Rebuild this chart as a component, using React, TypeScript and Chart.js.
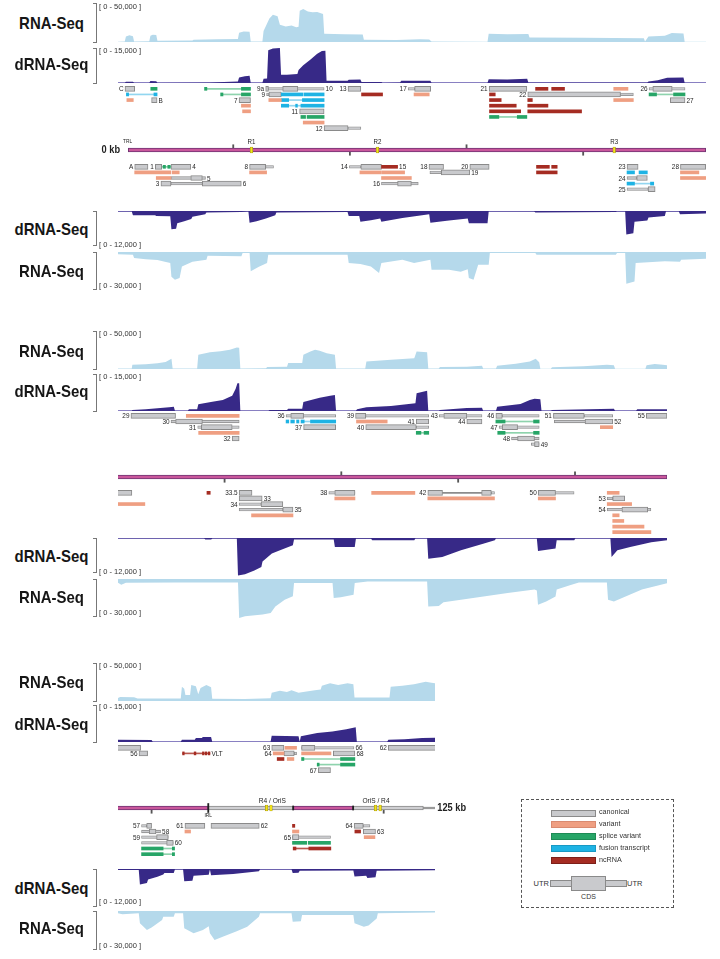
import React, { useEffect, useRef } from 'react';
import { Chart, registerables } from 'chart.js';

Chart.register(...registerables);

type Cov = [number, number][];
type Feat = [number, number, number, string];
type GLabel = [string, number, number, string];

// ================= coverage: [position kb (row-local), reads] =================
const r1RnaPlus: Cov = [
  [0, 300], [0.7, 600], [0.8, 7000], [1.1, 8500], [1.4, 7500], [1.5, 800], [2.8, 900], [2.9, 8000], [3.1, 9400], [3.4, 9000], [3.5, 1500],
  [6.5, 1800], [6.6, 3000], [8.6, 3400], [10.4, 3800], [10.5, 12000], [10.9, 13600], [11.4, 13000], [11.5, 600], [12.5, 500],
  [12.6, 14000], [13.1, 30000], [13.4, 35000], [13.8, 33000], [14.0, 22000], [14.5, 20000], [15.0, 21000], [15.4, 19000], [15.6, 19500],
  [15.7, 40000], [16.0, 42300], [16.4, 39000], [16.8, 38000], [17.2, 38500], [17.7, 36000], [17.8, 10500], [19.5, 10000], [21.1, 9500],
  [21.2, 3000], [24, 2600], [26, 3500], [26.8, 3200], [27.0, 500], [31.8, 400], [31.9, 10600], [33.5, 9800], [35.3, 10200], [35.4, 5900],
  [40, 5500], [45.2, 4800], [45.3, 700], [45.6, 7000], [47.0, 8000], [47.6, 11500], [48.6, 11000], [48.7, 300], [50.6, 200],
];
const r1DrnaPlus: Cov = [
  [0, 150], [0.7, 150], [0.8, 550], [1.4, 500], [1.5, 150], [2.8, 150], [2.9, 850], [3.4, 800], [3.5, 150], [8, 200], [10.4, 600],
  [10.5, 2400], [11.0, 2900], [11.4, 3100], [11.5, 150], [12.5, 150], [12.6, 1800], [12.9, 1900], [13.0, 14000], [13.4, 14800],
  [14.0, 15000], [14.1, 3500], [14.6, 3500], [15.2, 3700], [15.5, 3900], [15.6, 5600], [16.0, 7600], [16.6, 10000], [17.2, 12500],
  [17.6, 13700], [17.9, 13800], [18.0, 970], [19.8, 1000], [19.9, 1400], [20.9, 1500], [21.0, 420], [22.7, 420], [22.8, 150],
  [24.3, 200], [24.4, 970], [26.9, 970], [27.0, 100], [31.8, 100], [31.9, 1600], [33.5, 1500], [35.2, 1800], [35.3, 200],
  [45.5, 200], [45.6, 600], [46.4, 1200], [47.2, 2200], [48.6, 2400], [48.7, 100], [50.6, 100],
];
const r1DrnaMinus: Cov = [
  [0, 200], [1.3, 200], [1.4, 1600], [3.3, 1600], [3.4, 1900], [4.6, 2000], [4.7, 6800], [5.1, 6700], [5.2, 4600], [5.8, 3800],
  [6.4, 3000], [6.5, 2200], [7.6, 1200], [7.7, 600], [10.7, 400], [11.3, 200], [11.4, 4400], [12.0, 3800], [12.8, 2800], [13.6, 1600],
  [13.7, 600], [19.8, 400], [19.9, 1900], [20.8, 1900], [20.9, 4000], [21.8, 3500], [22.6, 2800], [22.7, 4000], [24.5, 2600],
  [26.8, 1200], [26.9, 4400], [28.5, 3600], [30.1, 2800], [30.2, 4600], [31.8, 4600], [31.9, 200], [35.8, 200], [35.9, 600],
  [42.8, 400], [42.9, 150], [43.6, 150], [43.7, 8800], [44.3, 8300], [44.4, 4000], [45.5, 3600], [45.6, 2400], [47.0, 1900],
  [47.1, 200], [48.2, 200], [48.3, 1200], [50.6, 900],
];
const r1RnaMinus: Cov = [
  [0, 1800], [1.4, 2200], [1.5, 4900], [2.5, 5800], [3.5, 6500], [4.6, 8900], [4.7, 20000], [5.0, 22500], [5.4, 21000], [5.6, 11700],
  [6.5, 8000], [7.7, 6200], [7.8, 3000], [10.7, 3500], [10.8, 800], [11.4, 800], [11.5, 15700], [12.2, 12000], [12.9, 8900],
  [13.0, 2200], [19.8, 2200], [19.9, 8900], [20.9, 9700], [21.8, 11700], [22.5, 17000], [22.7, 9000], [24.5, 6200], [25.5, 9000],
  [26.9, 6200], [27.0, 14300], [28.5, 14300], [29.5, 16000], [30.1, 14000], [30.2, 21000], [30.6, 22500], [31.0, 10300],
  [31.9, 10300], [32.0, 800], [35.9, 800], [36.0, 2200], [42.8, 2200], [42.9, 800], [43.6, 800], [43.7, 25700], [44.4, 24000],
  [44.5, 8900], [47.0, 7500], [48.3, 8000], [48.4, 6200], [50.6, 5500],
];

const r2RnaPlus: Cov = [
  [0, 800], [1.3, 800], [1.35, 5600], [2.5, 6200], [3.5, 7500], [4.2, 9100], [4.7, 13400], [4.8, 800], [6.9, 800], [7.0, 18700],
  [8.0, 22000], [8.9, 23500], [9.7, 25200], [10.3, 28200], [10.5, 28000], [10.6, 800], [12.8, 1000], [12.9, 2600], [14.6, 2800],
  [14.7, 7800], [15.9, 8000], [16.0, 18700], [16.6, 23000], [17.0, 25200], [17.4, 24000], [18.0, 20800], [18.7, 18700], [18.8, 800],
  [21.3, 800], [21.4, 9900], [23.5, 12100], [25.5, 14300], [25.7, 23000], [26.6, 22000], [26.7, 800], [27.6, 800], [27.7, 2600],
  [30.0, 3000], [31.3, 4400], [31.4, 800], [32.5, 800], [32.6, 4400], [34.2, 7000], [35.4, 10000], [35.9, 13400], [36.2, 9000],
  [36.3, 400], [37.2, 400], [37.3, 2200], [40.0, 3500], [42.0, 5600], [42.6, 5000], [42.7, 400], [45.3, 400], [45.4, 4800],
  [46.1, 6500], [46.8, 5500], [47.2, 4800],
];
const r2DrnaPlus: Cov = [
  [0, 150], [1.3, 150], [1.35, 400], [2.5, 700], [3.5, 1100], [4.5, 1500], [4.9, 1700], [5.0, 150], [6.1, 150], [6.2, 700],
  [6.9, 700], [7.0, 2700], [8.2, 3800], [9.1, 4500], [9.9, 6200], [10.2, 9000], [10.35, 11200], [10.5, 11200], [10.6, 150],
  [13.0, 150], [13.1, 400], [14.6, 400], [14.7, 900], [15.9, 900], [16.0, 3600], [17.4, 5400], [18.3, 6200], [18.7, 6500],
  [18.8, 150], [20.5, 150], [20.6, 700], [21.4, 1500], [23.5, 2000], [25.6, 3100], [25.7, 7200], [26.6, 8200], [26.7, 150],
  [27.6, 150], [27.7, 400], [30.0, 1200], [31.3, 1300], [31.4, 150], [32.5, 150], [32.6, 1700], [34.6, 2800], [35.4, 4500],
  [35.8, 5000], [36.3, 4800], [36.4, 150], [37.2, 150], [37.3, 400], [41.5, 800], [42.6, 900], [42.7, 150], [44.5, 150],
  [44.6, 700], [47.2, 700],
];
const r2DrnaMinus: Cov = [
  [0, 200], [7.5, 200], [7.6, 500], [8.1, 500], [8.2, 200], [10.3, 200], [10.4, 13200], [11.0, 12800], [11.8, 11500], [12.4, 10200],
  [12.5, 8300], [13.3, 5500], [14.0, 4300], [15.1, 2600], [15.2, 500], [18.6, 500], [18.7, 3200], [20.4, 3200], [20.5, 300],
  [21.8, 300], [21.9, 800], [25.5, 800], [25.6, 200], [26.6, 200], [26.7, 7300], [27.9, 6700], [29.5, 4300], [31.4, 2000],
  [32.4, 800], [32.5, 200], [36.0, 200], [36.1, 4600], [37.6, 3700], [37.7, 800], [39.2, 800], [39.3, 200], [42.3, 200],
  [42.4, 6700], [42.9, 4300], [44.0, 3200], [45.8, 1500], [47.2, 800],
];
const r2RnaMinus: Cov = [
  [0, 2500], [0.4, 4700], [0.8, 3000], [5.0, 2800], [10.4, 2800], [10.5, 31900], [11.0, 30500], [12.5, 29000], [13.2, 27800],
  [13.6, 22400], [14.4, 16900], [15.1, 14000], [15.2, 3300], [18.5, 3300], [18.6, 15500], [19.2, 15000], [20.3, 12800],
  [20.4, 3300], [21.5, 2000], [26.6, 2000], [26.7, 22400], [27.6, 22000], [28.0, 19000], [29.5, 16900], [33.5, 11400],
  [35.8, 8600], [36.0, 9500], [36.1, 21000], [36.8, 18300], [37.6, 14300], [37.7, 8600], [38.9, 5000], [39.6, 2800],
  [42.0, 2800], [42.1, 16900], [42.6, 18300], [43.6, 14300], [45.0, 8600], [47.2, 3300],
];

const r3RnaPlus: Cov = [
  [0, 3000], [0.3, 5300], [1.5, 5000], [1.8, 3200], [5.5, 3300], [5.6, 18700], [5.8, 16000], [5.9, 8000], [6.3, 8000],
  [6.4, 21000], [6.8, 19500], [7.0, 9000], [7.2, 17000], [7.7, 21000], [8.1, 18000], [8.2, 3000], [11.0, 2500], [13.2, 3500],
  [13.3, 11000], [14.0, 13400], [14.6, 12000], [15.0, 14300], [15.6, 11000], [16.0, 12000], [17.0, 14300], [17.5, 15000],
  [17.6, 20000], [18.3, 23300], [19.0, 21000], [19.8, 23300], [20.3, 22000], [20.4, 4500], [23.4, 4500], [23.5, 18700],
  [24.5, 20000], [25.5, 22000], [26.5, 25400], [27.0, 24000], [27.4, 23000],
];
const r3DrnaPlus: Cov = [
  [0, 900], [3.0, 800], [3.1, 150], [5.5, 150], [5.6, 900], [6.7, 900], [6.8, 1600], [7.3, 1600], [7.4, 2000], [8.1, 2000],
  [8.2, 150], [13.2, 150], [13.3, 2500], [14.5, 2400], [15.6, 2300], [15.7, 150], [15.8, 2300], [17.2, 3600], [18.5, 4300],
  [19.7, 5200], [20.5, 6000], [20.6, 150], [23.2, 150], [23.3, 900], [24.7, 1100], [26.2, 1600], [27.4, 1700],
];
const r3DrnaMinus: Cov = [
  [0, 300], [1.9, 300], [2.0, 5000], [2.6, 4500], [2.7, 3400], [3.5, 2500], [4.0, 1800], [4.1, 1300], [4.9, 1300], [5.0, 200],
  [5.7, 200], [5.8, 4000], [6.5, 3800], [6.6, 2150], [7.9, 1900], [8.0, 200], [8.1, 2050], [10.0, 1600], [12.2, 770],
  [12.3, 200], [15.0, 200], [15.1, 1300], [15.6, 1200], [15.7, 600], [20.3, 500], [20.4, 2400], [21.4, 2200], [21.5, 2900],
  [22.2, 2700], [22.3, 600], [27.4, 400],
];
const r3RnaMinus: Cov = [
  [0, 1500], [0.5, 2500], [1.9, 1800], [2.0, 9700], [2.6, 15000], [3.0, 13000], [3.9, 7100], [4.0, 4500], [4.9, 4500],
  [5.0, 1800], [5.7, 1800], [5.8, 13700], [6.6, 17600], [7.4, 15000], [7.9, 12000], [8.0, 17600], [8.4, 22900], [9.1, 20300],
  [10.3, 16000], [11.2, 12400], [12.2, 4500], [12.3, 1800], [15.0, 1800], [15.1, 8400], [15.8, 8000], [15.9, 3200],
  [20.3, 3200], [20.4, 9700], [21.2, 12400], [21.6, 11500], [22.3, 6000], [22.4, 1800], [27.4, 1200],
];

// ================= transcripts: [lane, start kb, end kb, kind] =================
const r1GenesPlus: Feat[] = [
  [0, 0.72, 1.55, 'cds'], [0, 2.93, 3.47, 'spl'], [0, 7.54, 7.74, 'spl'], [0, 7.74, 10.7, 'lspl'], [0, 10.7, 11.48, 'spl'],
  [0, 12.78, 13.02, 'cds'], [0, 13.02, 17.79, 'utr'], [0, 14.24, 15.54, 'cds'], [0, 19.84, 20.94, 'cds'],
  [0, 25.0, 25.55, 'utr'], [0, 25.55, 26.93, 'cds'], [0, 31.94, 35.17, 'cds'], [0, 35.92, 36.98, 'nc'], [0, 37.3, 38.4, 'nc'],
  [0, 42.62, 43.84, 'var'], [0, 45.65, 48.73, 'utr'], [0, 45.97, 47.63, 'cds'],
  [1, 0.84, 1.03, 'fus'], [1, 1.03, 3.2, 'lfus'], [1, 3.2, 3.47, 'fus'], [1, 8.92, 9.12, 'spl'], [1, 9.12, 10.7, 'lspl'],
  [1, 10.7, 11.48, 'spl'], [1, 12.86, 13.06, 'utr'], [1, 13.06, 14.12, 'cds'], [1, 14.12, 15.95, 'fus'], [1, 16.05, 17.79, 'fus'],
  [1, 21.0, 22.8, 'nc'], [1, 25.5, 26.8, 'var'], [1, 31.97, 32.46, 'nc'], [1, 35.25, 43.2, 'cds'], [1, 43.2, 44.3, 'utr'],
  [1, 45.65, 46.29, 'spl'], [1, 46.29, 47.75, 'lspl'], [1, 47.75, 48.73, 'spl'],
  [2, 0.88, 1.43, 'var'], [2, 3.0, 3.47, 'cds'], [2, 10.5, 11.48, 'cds'], [2, 13.05, 14.12, 'var'], [2, 14.12, 14.75, 'fus'],
  [2, 14.75, 15.93, 'lfus'], [2, 15.93, 17.79, 'fus'], [2, 31.97, 32.97, 'nc'], [2, 35.25, 35.64, 'nc'], [2, 42.62, 44.3, 'var'],
  [2, 47.47, 48.73, 'cds'],
  [3, 10.7, 11.48, 'var'], [3, 14.12, 14.75, 'fus'], [3, 14.75, 15.8, 'lfus'], [3, 15.35, 15.5, 'fus'], [3, 15.8, 17.79, 'fus'],
  [3, 31.97, 34.26, 'nc'], [3, 35.25, 36.98, 'nc'],
  [4, 10.8, 11.48, 'var'], [4, 15.69, 17.79, 'cds'], [4, 31.97, 34.64, 'nc'], [4, 35.25, 39.86, 'nc'],
  [5, 15.8, 16.2, 'spl'], [5, 16.33, 17.79, 'spl'], [5, 31.97, 32.77, 'spl'], [5, 32.77, 34.35, 'lspl'], [5, 34.35, 35.17, 'spl'],
  [6, 16.0, 17.79, 'var'],
  [7, 17.79, 19.84, 'cds'], [7, 19.84, 20.94, 'utr'],
];
const r1GenesMinus: Feat[] = [
  [0, 1.55, 2.69, 'cds'], [0, 3.32, 3.87, 'cds'], [0, 3.87, 4.66, 'lspl'], [0, 3.99, 4.19, 'spl'], [0, 4.39, 4.6, 'spl'],
  [0, 4.66, 6.36, 'cds'], [0, 11.4, 12.78, 'cds'], [0, 12.78, 13.45, 'utr'], [0, 19.96, 20.94, 'utr'], [0, 20.94, 22.71, 'cds'],
  [0, 22.71, 24.09, 'nc'], [0, 26.78, 28.03, 'cds'], [0, 30.28, 31.94, 'cds'], [0, 36.0, 37.1, 'nc'], [0, 37.3, 37.77, 'nc'],
  [0, 43.76, 44.71, 'cds'], [0, 48.34, 50.5, 'cds'],
  [1, 1.55, 4.66, 'var'], [1, 4.78, 5.37, 'var'], [1, 11.4, 12.86, 'var'], [1, 20.86, 22.64, 'var'], [1, 22.71, 24.69, 'var'],
  [1, 26.86, 27.84, 'utr'], [1, 27.84, 30.28, 'cds'], [1, 36.0, 37.77, 'nc'], [1, 43.76, 44.4, 'fus'], [1, 44.79, 45.5, 'fus'],
  [1, 48.34, 49.92, 'var'],
  [2, 3.4, 4.66, 'var'], [2, 4.66, 7.62, 'utr'], [2, 6.36, 7.35, 'cds'], [2, 22.71, 25.27, 'var'], [2, 43.76, 44.59, 'utr'],
  [2, 44.59, 45.5, 'cds'], [2, 48.34, 50.5, 'var'],
  [3, 3.8, 4.66, 'cds'], [3, 4.66, 7.35, 'utr'], [3, 7.35, 10.69, 'cds'], [3, 22.71, 25.86, 'utr'], [3, 24.09, 25.27, 'cds'],
  [3, 43.76, 44.4, 'fus'], [3, 44.4, 45.77, 'lfus'], [3, 45.77, 46.05, 'fus'],
  [4, 43.76, 45.57, 'utr'], [4, 45.57, 46.17, 'cds'],
];
const r2GenesPlus: Feat[] = [
  [0, 1.23, 5.05, 'cds'], [0, 5.97, 10.5, 'var'], [0, 14.52, 18.77, 'utr'], [0, 14.92, 16.02, 'cds'], [0, 20.47, 21.34, 'cds'],
  [0, 21.34, 26.74, 'utr'], [0, 27.64, 31.3, 'utr'], [0, 28.03, 30.0, 'cds'], [0, 32.49, 33.04, 'cds'], [0, 33.04, 36.2, 'utr'],
  [0, 37.42, 40.06, 'cds'], [0, 40.06, 42.5, 'utr'], [0, 45.38, 47.15, 'cds'],
  [1, 4.66, 10.5, 'utr'], [1, 5.06, 7.35, 'cds'], [1, 14.52, 14.75, 'fus'], [1, 14.92, 15.23, 'fus'], [1, 15.42, 15.62, 'fus'],
  [1, 15.8, 16.07, 'fus'], [1, 16.07, 16.61, 'lfus'], [1, 16.61, 18.77, 'fus'], [1, 20.55, 23.18, 'var'], [1, 25.67, 26.74, 'cds'],
  [1, 30.0, 31.3, 'cds'], [1, 32.49, 33.28, 'spl'], [1, 33.28, 35.72, 'lspl'], [1, 35.72, 36.2, 'spl'], [1, 37.5, 42.5, 'utr'],
  [1, 40.13, 42.5, 'cds'],
  [2, 6.95, 10.5, 'utr'], [2, 7.26, 9.9, 'cds'], [2, 16.02, 18.77, 'cds'], [2, 21.34, 25.67, 'cds'], [2, 25.67, 26.74, 'utr'],
  [2, 32.77, 36.2, 'utr'], [2, 33.04, 34.35, 'cds'], [2, 41.44, 42.5, 'var'],
  [3, 7.03, 10.5, 'var'], [3, 25.67, 26.07, 'spl'], [3, 26.07, 26.34, 'lspl'], [3, 26.34, 26.74, 'spl'], [3, 32.65, 33.28, 'spl'],
  [3, 33.28, 35.72, 'lspl'], [3, 35.72, 36.2, 'spl'],
  [4, 9.9, 10.5, 'cds'], [4, 33.83, 36.2, 'utr'], [4, 34.35, 35.8, 'cds'],
  [5, 35.53, 36.2, 'utr'], [5, 35.8, 36.2, 'cds'],
];
const r2GenesMinus: Feat[] = [
  [0, 0.05, 1.31, 'cds'], [0, 7.74, 8.02, 'nc'], [0, 10.5, 11.6, 'cds'], [0, 18.18, 20.42, 'utr'], [0, 18.69, 20.42, 'cds'],
  [0, 21.85, 25.55, 'var'], [0, 26.66, 27.92, 'cds'], [0, 27.92, 31.27, 'lgray'], [0, 31.27, 32.1, 'cds'], [0, 32.1, 32.37, 'utr'],
  [0, 36.12, 37.6, 'cds'], [0, 37.6, 39.19, 'utr'], [0, 42.03, 43.05, 'var'],
  [1, 10.5, 12.47, 'cds'], [1, 18.69, 20.42, 'var'], [1, 26.66, 32.37, 'var'], [1, 36.12, 37.6, 'var'], [1, 42.03, 42.5, 'utr'],
  [1, 42.5, 43.53, 'cds'],
  [2, 0.05, 2.42, 'var'], [2, 10.5, 12.38, 'utr'], [2, 12.38, 14.24, 'cds'], [2, 42.03, 44.12, 'var'],
  [3, 10.5, 14.24, 'utr'], [3, 14.24, 15.11, 'cds'], [3, 42.03, 45.77, 'utr'], [3, 43.29, 45.5, 'cds'],
  [4, 11.56, 15.11, 'var'], [4, 42.5, 43.05, 'var'],
  [5, 42.5, 43.45, 'var'],
  [6, 42.5, 45.18, 'var'],
  [7, 42.5, 45.77, 'var'],
];
const r3GenesPlus: Feat[] = [
  [0, 0.0, 2.06, 'cds'], [0, 13.3, 14.35, 'cds'], [0, 14.43, 15.43, 'var'], [0, 15.86, 20.35, 'utr'], [0, 15.86, 17.0, 'cds'],
  [0, 23.3, 27.4, 'cds'],
  [1, 1.92, 2.66, 'cds'], [1, 5.66, 8.0, 'lnc'], [1, 5.66, 5.8, 'nc'], [1, 6.65, 6.8, 'nc'], [1, 7.36, 7.5, 'nc'],
  [1, 7.6, 7.74, 'nc'], [1, 7.86, 8.0, 'nc'], [1, 13.43, 14.35, 'var'], [1, 14.35, 15.23, 'cds'], [1, 15.23, 15.43, 'utr'],
  [1, 15.86, 18.38, 'var'], [1, 18.58, 20.43, 'cds'],
  [2, 13.77, 14.35, 'nc'], [2, 14.63, 15.2, 'var'], [2, 15.86, 16.06, 'spl'], [2, 16.06, 19.2, 'lspl'], [2, 19.2, 20.43, 'spl'],
  [3, 17.2, 17.37, 'spl'], [3, 17.37, 19.2, 'lspl'], [3, 19.2, 20.43, 'spl'],
  [4, 17.29, 18.34, 'cds'],
];
const r3GenesMinus: Feat[] = [
  [0, 2.14, 2.58, 'utr'], [0, 2.58, 3.0, 'cds'], [0, 5.86, 7.57, 'cds'], [0, 8.09, 12.23, 'cds'], [0, 15.08, 15.28, 'nc'],
  [0, 20.37, 21.15, 'cds'], [0, 21.15, 21.72, 'utr'],
  [1, 2.14, 3.77, 'utr'], [1, 2.8, 3.37, 'cds'], [1, 5.86, 6.34, 'var'], [1, 15.08, 15.63, 'var'], [1, 20.43, 20.92, 'nc'],
  [1, 21.15, 22.2, 'cds'],
  [2, 2.14, 4.43, 'utr'], [2, 3.43, 4.43, 'cds'], [2, 15.08, 18.34, 'utr'], [2, 15.08, 15.63, 'cds'], [2, 21.23, 22.15, 'var'],
  [3, 2.14, 4.86, 'utr'], [3, 4.29, 4.86, 'cds'], [3, 15.08, 16.3, 'spl'], [3, 16.43, 18.34, 'spl'],
  [4, 2.14, 3.99, 'spl'], [4, 3.99, 4.78, 'lspl'], [4, 4.78, 4.97, 'spl'], [4, 15.14, 15.38, 'nc'], [4, 15.38, 16.48, 'lnc'],
  [4, 16.48, 18.37, 'nc'],
  [5, 2.14, 3.99, 'spl'], [5, 3.99, 4.78, 'lspl'], [5, 4.78, 4.97, 'spl'],
];

// ================= gene names: [text, lane, kb, side] =================
const r1NamesPlus: GLabel[] = [
  ['C', 0, 0.72, 'l'], ['9a', 0, 12.78, 'l'], ['10', 0, 17.79, 'r'], ['13', 0, 19.84, 'l'], ['17', 0, 25.0, 'l'],
  ['21', 0, 31.94, 'l'], ['26', 0, 45.65, 'l'], ['9', 1, 12.86, 'l'], ['22', 1, 35.25, 'l'], ['B', 2, 3.47, 'r'],
  ['7', 2, 10.5, 'l'], ['27', 2, 48.73, 'r'], ['11', 4, 15.69, 'l'], ['12', 7, 17.79, 'l'],
];
const r1NamesMinus: GLabel[] = [
  ['A', 0, 1.55, 'l'], ['1', 0, 3.32, 'l'], ['4', 0, 6.36, 'r'], ['8', 0, 11.4, 'l'], ['14', 0, 19.96, 'l'], ['15', 0, 24.09, 'r'],
  ['18', 0, 26.78, 'l'], ['20', 0, 30.28, 'l'], ['23', 0, 43.76, 'l'], ['28', 0, 48.34, 'l'], ['19', 1, 30.28, 'r'],
  ['5', 2, 7.62, 'r'], ['24', 2, 43.76, 'l'], ['3', 3, 3.8, 'l'], ['6', 3, 10.69, 'r'], ['16', 3, 22.71, 'l'], ['25', 4, 43.76, 'l'],
];
const r2NamesPlus: GLabel[] = [
  ['29', 0, 1.23, 'l'], ['36', 0, 14.52, 'l'], ['39', 0, 20.47, 'l'], ['43', 0, 27.64, 'l'], ['46', 0, 32.49, 'l'],
  ['51', 0, 37.42, 'l'], ['55', 0, 45.38, 'l'], ['30', 1, 4.66, 'l'], ['41', 1, 25.67, 'l'], ['44', 1, 30.0, 'l'],
  ['52', 1, 42.5, 'r'], ['31', 2, 6.95, 'l'], ['37', 2, 16.02, 'l'], ['40', 2, 21.34, 'l'], ['47', 2, 32.77, 'l'],
  ['32', 4, 9.9, 'l'], ['48', 4, 33.83, 'l'], ['49', 5, 36.2, 'r'],
];
const r2NamesMinus: GLabel[] = [
  ['33.5', 0, 10.5, 'l'], ['38', 0, 18.18, 'l'], ['42', 0, 26.66, 'l'], ['50', 0, 36.12, 'l'], ['33', 1, 12.47, 'r'],
  ['53', 1, 42.03, 'l'], ['34', 2, 10.5, 'l'], ['35', 3, 15.11, 'r'], ['54', 3, 42.03, 'l'],
];
const r3NamesPlus: GLabel[] = [
  ['63', 0, 13.3, 'l'], ['66', 0, 20.35, 'r'], ['62', 0, 23.3, 'l'], ['56', 1, 1.92, 'l'], ['VLT', 1, 8.0, 'r'],
  ['64', 1, 13.43, 'l'], ['68', 1, 20.43, 'r'], ['67', 4, 17.29, 'l'],
];
const r3NamesMinus: GLabel[] = [
  ['57', 0, 2.14, 'l'], ['61', 0, 5.86, 'l'], ['62', 0, 12.23, 'r'], ['64', 0, 20.37, 'l'], ['58', 1, 3.77, 'r'],
  ['63', 1, 22.2, 'r'], ['59', 2, 2.14, 'l'], ['65', 2, 15.08, 'l'], ['60', 3, 4.86, 'r'],
];

// ================= genome axis =================
const r1Segments: [number, number, string][] = [[1.0, 50.5, 'unique']];
const r1Ticks: [number, number][] = [[10, 1], [20, -1], [30, 1], [40, -1]];
const r1Repeats: number[] = [11.56, 22.36, 42.66];
const r1AxisText: [string, number, number, string, number, boolean][] = [
  ['0 kb', 0.3, 0, 'right', 10.5, true], ['TRL', 0.55, 0.6, 'left', 5.5, false],
  ['R1', 11.56, 0.5, 'center', 7, false], ['R2', 22.36, 0.5, 'center', 7, false], ['R3', 42.66, 0.5, 'center', 7, false],
];
const r2Segments: [number, number, string][] = [[0.05, 47.15, 'unique']];
const r2Ticks: [number, number][] = [[9.25, -1], [19.25, 1], [29.26, -1], [39.27, 1]];
const r3Segments: [number, number, string][] = [
  [0.05, 7.86, 'unique'], [7.86, 15.14, 'repeat'], [15.14, 20.28, 'unique'], [20.28, 26.3, 'repeat'], [26.3, 27.35, 'end'],
];
const r3Ticks: [number, number][] = [[3.0, -1], [22.9, -1]];
const r3Repeats: number[] = [12.86, 13.24, 22.2, 22.6];
const r3Junctions: [number, number][] = [[7.86, 9], [15.14, 4], [20.28, 4]];
const r3AxisText: [string, number, number, string, number, boolean][] = [
  ['IRL', 7.86, -0.52, 'center', 5.5, false], ['R4 / OriS', 13.35, 0.47, 'center', 7.5, false],
  ['OriS / R4', 22.24, 0.47, 'center', 7.5, false], ['125 kb', 27.5, 0, 'left', 10.5, true],
];

// ================= styles =================
const RNA_BLUE = '#b5d9eb';
const DRNA_NAVY = '#372987';
const GRAY = '#c9cacd';
const GRAY_BD = '#8a8a8a';
const VAR = '#ef9f82';
const SPL = '#27a567';
const FUS = '#1eb3e4';
const NC = '#a52c22';
const FONT = '"Liberation Sans", Arial, Helvetica, sans-serif';

const FEATURE_STYLE: Record<string, any> = {
  lgray: { t: 1, bg: '#8c8c8c', order: 6 },
  lspl: { t: 1, bg: '#8ed3ad', order: 6 },
  lfus: { t: 1, bg: '#92d6f0', order: 6 },
  lnc: { t: 1, bg: '#b8574f', order: 6 },
  utr: { t: 2.6, bg: GRAY, bd: GRAY_BD, bw: 0.8, order: 5 },
  cds: { t: 5, bg: GRAY, bd: GRAY_BD, bw: 1, order: 4 },
  var: { t: 3, bg: VAR, order: 1 },
  spl: { t: 3, bg: SPL, order: 1 },
  fus: { t: 3, bg: FUS, order: 1 },
  nc: { t: 3, bg: NC, order: 1 },
};

const PAD_L = 24;
const PAD_R = 16;

// layout of each row: x-domain (kb) and pixel frame
const ROWS = [
  {
    xmin: 0.12, xmax: 50.53, left: 118, width: 588, axisY: 150,
    tracks: [
      { data: r1RnaPlus, color: RNA_BLUE, top: 3, h: 39, max: 50000, down: false, name: 'RNA-Seq', cy: 23.3, range: '[ 0 - 50,000 ]', rcy: 6.7, br: [3, 42] },
      { data: r1DrnaPlus, color: DRNA_NAVY, top: 48, h: 35, max: 15000, down: false, name: 'dRNA-Seq', cy: 64.2, range: '[ 0 - 15,000 ]', rcy: 50.5, br: [48, 83] },
      { data: r1DrnaMinus, color: DRNA_NAVY, top: 211, h: 32, max: 12000, down: true, name: 'dRNA-Seq', cy: 229.7, range: '[ 0 - 12,000 ]', rcy: 245, br: [211, 245] },
      { data: r1RnaMinus, color: RNA_BLUE, top: 252, h: 37, max: 30000, down: true, name: 'RNA-Seq', cy: 270.8, range: '[ 0 - 30,000 ]', rcy: 286, br: [252, 289] },
    ],
    genes: [
      { feats: r1GenesPlus, names: r1NamesPlus, lanes: 8, top: 86, h: 45 },
      { feats: r1GenesMinus, names: r1NamesMinus, lanes: 5, top: 164, h: 28 },
    ],
    axis: { segs: r1Segments, ticks: r1Ticks, reps: r1Repeats, juncs: [] as [number, number][], text: r1AxisText },
  },
  {
    xmin: 0.12, xmax: 47.15, left: 118, width: 549, axisY: 477,
    tracks: [
      { data: r2RnaPlus, color: RNA_BLUE, top: 331, h: 38, max: 50000, down: false, name: 'RNA-Seq', cy: 351.2, range: '[ 0 - 50,000 ]', rcy: 333.5, br: [331, 369] },
      { data: r2DrnaPlus, color: DRNA_NAVY, top: 374, h: 37, max: 15000, down: false, name: 'dRNA-Seq', cy: 391.2, range: '[ 0 - 15,000 ]', rcy: 377, br: [374, 411] },
      { data: r2DrnaMinus, color: DRNA_NAVY, top: 538, h: 38, max: 13400, down: true, name: 'dRNA-Seq', cy: 556.3, range: '[ 0 - 12,000 ]', rcy: 571.7, br: [538, 572] },
      { data: r2RnaMinus, color: RNA_BLUE, top: 579, h: 40, max: 32700, down: true, name: 'RNA-Seq', cy: 597.5, range: '[ 0 - 30,000 ]', rcy: 613.3, br: [579, 616] },
    ],
    genes: [
      { feats: r2GenesPlus, names: r2NamesPlus, lanes: 6, top: 413, h: 34 },
      { feats: r2GenesMinus, names: r2NamesMinus, lanes: 8, top: 490, h: 45 },
    ],
    axis: { segs: r2Segments, ticks: r2Ticks, reps: [] as number[], juncs: [] as [number, number][], text: [] as any[] },
  },
  {
    xmin: 0.12, xmax: 27.3, left: 118, width: 317, axisY: 808,
    tracks: [
      { data: r3RnaPlus, color: RNA_BLUE, top: 663, h: 38, max: 50000, down: false, name: 'RNA-Seq', cy: 682.5, range: '[ 0 - 50,000 ]', rcy: 666, br: [663, 701] },
      { data: r3DrnaPlus, color: DRNA_NAVY, top: 705, h: 37, max: 15000, down: false, name: 'dRNA-Seq', cy: 724.2, range: '[ 0 - 15,000 ]', rcy: 707, br: [705, 742] },
      { data: r3DrnaMinus, color: DRNA_NAVY, top: 869, h: 37, max: 12000, down: true, name: 'dRNA-Seq', cy: 887.8, range: '[ 0 - 12,000 ]', rcy: 902.3, br: [869, 906] },
      { data: r3RnaMinus, color: RNA_BLUE, top: 911, h: 38, max: 30000, down: true, name: 'RNA-Seq', cy: 928.3, range: '[ 0 - 30,000 ]', rcy: 945.7, br: [911, 949] },
    ],
    genes: [
      { feats: r3GenesPlus, names: r3NamesPlus, lanes: 5, top: 745, h: 28 },
      { feats: r3GenesMinus, names: r3NamesMinus, lanes: 6, top: 823, h: 34 },
    ],
    axis: { segs: r3Segments, ticks: r3Ticks, reps: r3Repeats, juncs: r3Junctions, text: r3AxisText },
  },
];

const LEGEND: [string, string, string][] = [
  ['canonical', GRAY, GRAY_BD],
  ['variant', VAR, '#d98a70'],
  ['splice variant', SPL, '#1f8a55'],
  ['fusion transcript', FUS, '#1899c4'],
  ['ncRNA', NC, '#7d1f18'],
];

// ================= chart helpers =================
const baseOptions = (padding: any) => ({
  animation: false as const,
  responsive: false,
  maintainAspectRatio: false,
  events: [] as any[],
  layout: { padding },
});

const nameLabelPlugin = {
  id: 'nameLabels',
  afterDatasetsDraw(chart: any, _args: any, opts: any) {
    const { ctx } = chart;
    const xs = chart.scales.x;
    const ys = chart.scales.y;
    ctx.save();
    ctx.font = `8px ${FONT}`;
    ctx.fillStyle = '#1e1e1e';
    ctx.textBaseline = 'middle';
    for (const [t, lane, pos, side] of opts.items || []) {
      const px = xs.getPixelForValue(pos) + (side === 'l' ? -1.5 : 1.5);
      const py = ys.getPixelForValue(lane) + 0.4;
      ctx.save();
      ctx.translate(px, py);
      ctx.scale(0.8, 1);
      ctx.textAlign = side === 'l' ? 'right' : 'left';
      ctx.fillText(t, 0, 0);
      ctx.restore();
    }
    ctx.restore();
  },
};

const axisTextPlugin = {
  id: 'axisText',
  afterDatasetsDraw(chart: any, _args: any, opts: any) {
    const { ctx } = chart;
    const xs = chart.scales.x;
    const ys = chart.scales.y;
    ctx.save();
    ctx.fillStyle = '#222';
    ctx.textBaseline = 'middle';
    for (const [t, pos, y, align, size, bold] of opts.items || []) {
      ctx.font = `${bold ? 'bold ' : ''}${size}px ${FONT}`;
      ctx.save();
      ctx.translate(xs.getPixelForValue(pos), ys.getPixelForValue(y));
      ctx.scale(0.88, 1);
      ctx.textAlign = align;
      ctx.fillText(t, 0, 0);
      ctx.restore();
    }
    ctx.restore();
  },
};

function ChartCanvas({ left, top, width, height, make }: any) {
  const ref = useRef<HTMLCanvasElement>(null);
  useEffect(() => {
    const chart = new Chart(ref.current as HTMLCanvasElement, make());
    return () => chart.destroy();
  }, []);
  return (
    <canvas
      ref={ref}
      width={width}
      height={height}
      style={{ position: 'absolute', left, top, width, height, display: 'block' }}
    />
  );
}

function coverageConfig(row: any, tr: any): any {
  const datasets: any[] = [
    {
      data: tr.data.map(([x, y]: number[]) => ({ x, y })),
      backgroundColor: tr.color,
      borderWidth: 0,
      pointRadius: 0,
      fill: 'origin',
      tension: 0,
      order: 0,
    },
  ];
  if (tr.color === DRNA_NAVY) {
    datasets.push({
      data: [{ x: row.xmin, y: 0 }, { x: row.xmax, y: 0 }],
      borderColor: '#a69ed6',
      borderWidth: 2,
      pointRadius: 0,
      fill: false,
      order: 1,
    });
  }
  return {
    type: 'line',
    data: { datasets },
    options: {
      ...baseOptions(0),
      plugins: { legend: { display: false }, tooltip: { enabled: false } },
      scales: {
        x: { type: 'linear', display: false, min: row.xmin, max: row.xmax, offset: false },
        y: { type: 'linear', display: false, min: 0, max: tr.max, reverse: tr.down, offset: false },
      },
    },
  };
}

function genesConfig(row: any, g: any): any {
  const datasets = Object.keys(FEATURE_STYLE)
    .map((kind) => {
      const s = FEATURE_STYLE[kind];
      return {
        data: g.feats.filter((f: Feat) => f[3] === kind).map((f: Feat) => ({ x: [f[1], f[2]], y: f[0] })),
        backgroundColor: s.bg,
        borderColor: s.bd || s.bg,
        borderWidth: s.bw || 0,
        borderSkipped: false,
        barThickness: s.t,
        grouped: false,
        order: s.order,
      };
    })
    .filter((d) => d.data.length);
  return {
    type: 'bar',
    data: { datasets },
    plugins: [nameLabelPlugin],
    options: {
      ...baseOptions({ left: PAD_L, right: PAD_R, top: 0, bottom: 0 }),
      indexAxis: 'y',
      plugins: { legend: { display: false }, tooltip: { enabled: false }, nameLabels: { items: g.names } },
      scales: {
        x: { type: 'linear', display: false, min: row.xmin, max: row.xmax, offset: false },
        y: { type: 'linear', display: false, min: -0.5, max: g.lanes - 0.5, reverse: true, offset: false },
      },
    },
  };
}

function axisConfig(row: any, padR: number): any {
  const a = row.axis;
  const segStyle: Record<string, any> = {
    unique: { t: 4, bg: '#c9579b', bd: '#6f3373', bw: 1 },
    repeat: { t: 4, bg: '#cfcfd2', bd: '#8a8a8a', bw: 1 },
    end: { t: 1.6, bg: '#9a9a9a', bd: '#9a9a9a', bw: 0 },
  };
  const datasets: any[] = Object.keys(segStyle).map((k) => ({
    data: a.segs.filter((s: any) => s[2] === k).map((s: any) => ({ x: [s[0], s[1]], y: 0 })),
    backgroundColor: segStyle[k].bg,
    borderColor: segStyle[k].bd,
    borderWidth: segStyle[k].bw,
    borderSkipped: false,
    barThickness: segStyle[k].t,
    grouped: false,
    order: 3,
  }));
  datasets.push({
    data: a.ticks.map(([p, side]: number[]) => ({ x: [p - 0.05, p + 0.05], y: side * 0.25 })),
    backgroundColor: '#555',
    borderWidth: 0,
    barThickness: 3,
    grouped: false,
    order: 4,
  });
  const heights = Array.from(new Set(a.juncs.map(([, h]: number[]) => h))) as number[];
  for (const h of heights) {
    datasets.push({
      data: a.juncs.filter(([, hh]: number[]) => hh === h).map(([p]: number[]) => ({ x: [p - 0.05, p + 0.05], y: 0 })),
      backgroundColor: '#222',
      borderWidth: 0,
      barThickness: h,
      grouped: false,
      order: 1,
    });
  }
  datasets.push({
    data: a.reps.map((p: number) => ({ x: [p - 0.11, p + 0.11], y: 0 })),
    backgroundColor: '#f2e31b',
    borderColor: '#9b8c12',
    borderWidth: 0.6,
    borderSkipped: false,
    barThickness: 6,
    grouped: false,
    order: 0,
  });
  return {
    type: 'bar',
    data: { datasets: datasets.filter((d) => d.data.length) },
    plugins: [axisTextPlugin],
    options: {
      ...baseOptions({ left: PAD_L + 6, right: padR, top: 0, bottom: 0 }),
      indexAxis: 'y',
      plugins: { legend: { display: false }, tooltip: { enabled: false }, axisText: { items: a.text } },
      scales: {
        x: { type: 'linear', display: false, min: row.xmin, max: row.xmax, offset: false },
        y: { type: 'linear', display: false, min: -1, max: 1, offset: false },
      },
    },
  };
}

// ================= HTML text pieces =================
function TrackName({ text, cy }: any) {
  return (
    <div
      style={{
        position: 'absolute', left: 0, width: 103, top: cy - 8.3, height: 17, fontFamily: FONT,
        fontWeight: 700, fontSize: 17, lineHeight: '17px', textAlign: 'center', color: '#161616',
        transform: 'scaleX(0.88)', whiteSpace: 'nowrap',
      }}
    >
      {text}
    </div>
  );
}

function RangeTag({ text, cy, br }: any) {
  return (
    <>
      <div
        style={{
          position: 'absolute', left: 93, top: br[0], width: 3, height: br[1] - br[0] - 1,
          borderRight: '1px solid #777', borderTop: '1px solid #777', borderBottom: '1px solid #777',
        }}
      />
      <div
        style={{
          position: 'absolute', left: 99, top: cy - 4.9, fontFamily: FONT, fontSize: 7.5,
          lineHeight: '10px', color: '#333', whiteSpace: 'nowrap',
        }}
      >
        {text}
      </div>
    </>
  );
}

function Legend() {
  return (
    <div style={{ position: 'absolute', left: 521, top: 799, width: 151, height: 107, border: '1px dashed #555' }}>
      {LEGEND.map(([label, bg, bd], i) => (
        <React.Fragment key={label}>
          <div
            style={{
              position: 'absolute', left: 28.5, top: 9.5 + i * 11.9, width: 43, height: 5,
              background: bg, border: `1px solid ${bd}`,
            }}
          />
          <div
            style={{
              position: 'absolute', left: 77, top: 7 + i * 11.9, fontFamily: FONT, fontSize: 8,
              lineHeight: '10px', color: '#333', whiteSpace: 'nowrap', transform: 'scaleX(0.9)', transformOrigin: 'left',
            }}
          >
            {label}
          </div>
        </React.Fragment>
      ))}
      <div style={{ position: 'absolute', left: 28, top: 80, width: 20, height: 5, background: GRAY, border: `1px solid ${GRAY_BD}` }} />
      <div style={{ position: 'absolute', left: 49, top: 76, width: 33, height: 13, background: GRAY, border: `1px solid ${GRAY_BD}` }} />
      <div style={{ position: 'absolute', left: 83, top: 80, width: 20, height: 5, background: GRAY, border: `1px solid ${GRAY_BD}` }} />
      <div style={{ position: 'absolute', left: 7, top: 78.5, width: 20, textAlign: 'right', fontFamily: FONT, fontSize: 7.5, lineHeight: '10px', color: '#333' }}>UTR</div>
      <div style={{ position: 'absolute', left: 105, top: 78.5, fontFamily: FONT, fontSize: 7.5, lineHeight: '10px', color: '#333' }}>UTR</div>
      <div style={{ position: 'absolute', left: 49, width: 35, top: 91.5, textAlign: 'center', fontFamily: FONT, fontSize: 7, lineHeight: '10px', color: '#333' }}>CDS</div>
    </div>
  );
}

export default function App() {
  return (
    <div style={{ position: 'absolute', left: 0, top: 0, width: 720, height: 959, background: '#fff', overflow: 'hidden' }}>
      {ROWS.map((row, ri) => (
        <React.Fragment key={ri}>
          {row.tracks.map((tr, ti) => (
            <React.Fragment key={ti}>
              <ChartCanvas left={row.left} top={tr.top} width={row.width} height={tr.h} make={() => coverageConfig(row, tr)} />
              <TrackName text={tr.name} cy={tr.cy} />
              <RangeTag text={tr.range} cy={tr.rcy} br={tr.br} />
            </React.Fragment>
          ))}
          {row.genes.map((g, gi) => (
            <ChartCanvas
              key={'g' + gi}
              left={row.left - PAD_L}
              top={g.top}
              width={row.width + PAD_L + PAD_R}
              height={g.h}
              make={() => genesConfig(row, g)}
            />
          ))}
          <ChartCanvas
            left={row.left - PAD_L - 6}
            top={row.axisY - 15}
            width={row.width + PAD_L + 6 + (ri === 2 ? 48 : 10)}
            height={30}
            make={() => axisConfig(row, ri === 2 ? 48 : 10)}
          />
        </React.Fragment>
      ))}
      <Legend />
    </div>
  );
}
